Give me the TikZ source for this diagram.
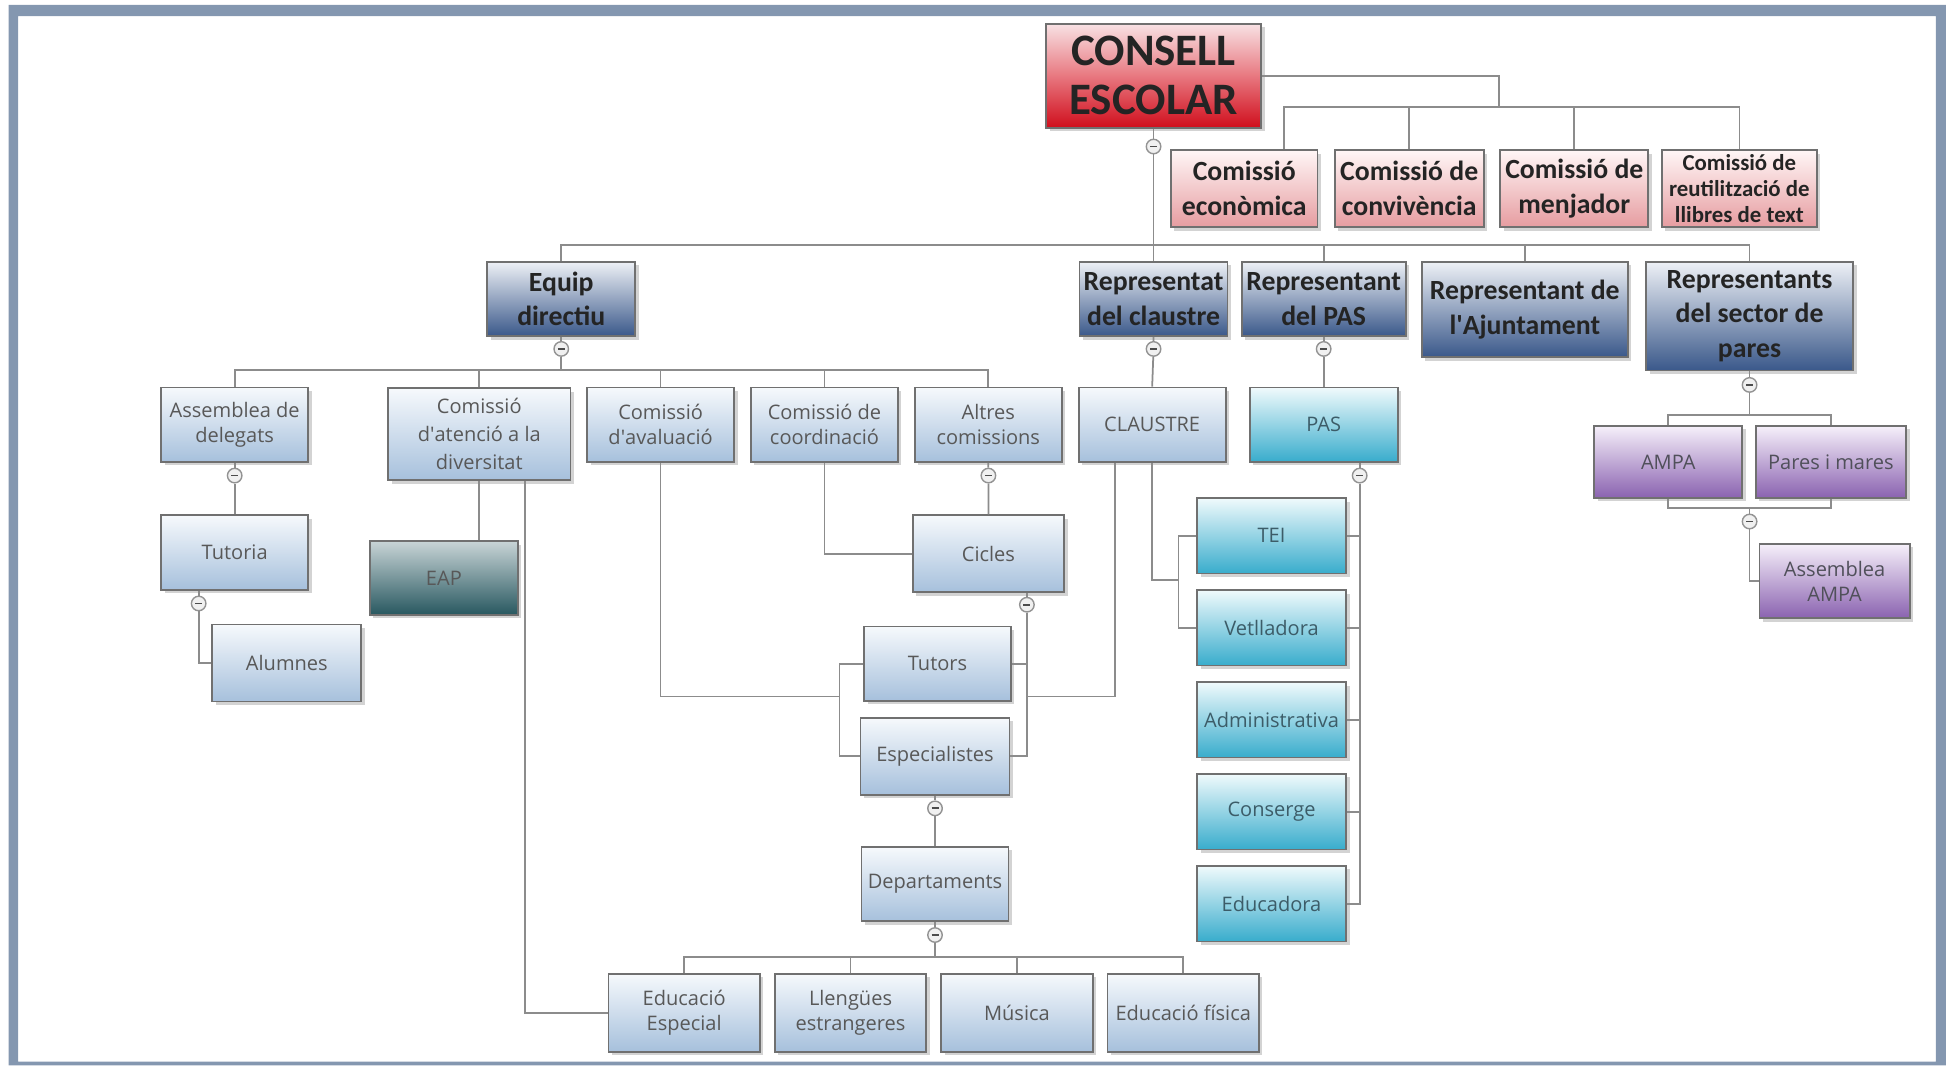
\documentclass[tikz,border=0pt]{standalone}
\usepackage{fontspec}
\setmainfont{Open Sans}
\newfontfamily\calib{Carlito}
\usetikzlibrary{shadows}

\definecolor{framec}{RGB}{132,151,176}
\definecolor{linec}{RGB}{140,140,140}
\definecolor{boxline}{RGB}{112,112,112}
\definecolor{txtdark}{RGB}{36,36,36}
\definecolor{txtgray}{RGB}{88,88,88}
\definecolor{paletop}{RGB}{246,249,252}
\definecolor{palebot}{RGB}{166,192,220}
\definecolor{reptop}{RGB}{238,241,246}
\definecolor{repbot}{RGB}{58,88,138}
\definecolor{redtop}{RGB}{248,226,228}
\definecolor{redmid}{RGB}{232,120,128}
\definecolor{redbot}{RGB}{208,14,28}
\definecolor{pinktop}{RGB}{255,246,246}
\definecolor{pinkbot}{RGB}{230,156,160}
\definecolor{deeptop}{RGB}{200,212,214}
\definecolor{deepbot}{RGB}{40,88,96}
\definecolor{aquatop}{RGB}{240,250,252}
\definecolor{aquabot}{RGB}{56,172,204}
\definecolor{aquatxt}{RGB}{60,92,104}
\definecolor{lilatop}{RGB}{246,240,250}
\definecolor{lilabot}{RGB}{138,98,176}
\definecolor{lilatxt}{RGB}{80,80,90}

\begin{document}
\begin{tikzpicture}[x=0.012417cm, y=-0.012417cm, node distance={16.51mm},
        box/.style = {draw=boxline, line width=0.5pt, align=center, inner sep=1pt, drop shadow={shadow xshift=0.35mm, shadow yshift=-0.35mm, opacity=0.35}},
        chair/.style = {box, top color=redtop, bottom color=redbot, middle color=redmid, text=txtdark, font=\calib\bfseries\fontsize{12.8}{14}\selectfont, minimum width=21.5mm, minimum height=10.4mm},
        com/.style = {box, top color=pinktop, bottom color=pinkbot, text=txtdark, font=\calib\bfseries\fontsize{7.9}{9.9}\selectfont, minimum height=7.7mm},
        rep/.style = {box, top color=reptop, bottom color=repbot, text=txtdark, font=\calib\bfseries\fontsize{7.9}{9.9}\selectfont, minimum width=14.8mm, minimum height=7.45mm},
        pale/.style = {box, top color=paletop, bottom color=palebot, text=txtgray, font=\fontsize{5.7}{7.2}\selectfont, minimum width=14.7mm, minimum height=7.45mm},
        deep/.style = {box, top color=deeptop, bottom color=deepbot, text=txtgray, font=\fontsize{5.7}{7.2}\selectfont, minimum width=14.8mm, minimum height=7.35mm},
        aqua/.style = {box, top color=aquatop, bottom color=aquabot, text=aquatxt, font=\fontsize{5.7}{7.2}\selectfont, minimum width=14.9mm, minimum height=7.55mm},
        lila/.style = {box, top color=lilatop, bottom color=lilabot, text=lilatxt, font=\fontsize{5.7}{7.2}\selectfont, minimum width=14.8mm, minimum height=7.2mm},
        knob/.style = {circle, draw=gray!85, fill=gray!12, line width=0.4pt, minimum size=1.45mm, inner sep=0pt, path picture={\draw[black!70, line width=0.5pt] ([xshift=-0.35mm]path picture bounding box.center) -- ([xshift=0.35mm]path picture bounding box.center);}},
        link/.style = {draw=linec, line width=0.5pt}]
        \useasboundingbox (0,0) rectangle (1568,858);
        \fill[framec, even odd rule] (7,4) rectangle (1567,858) (14.5,13) rectangle (1559,855);

        \node[chair] (1) at (929,61) {CONSELL\\ESCOLAR};
        \node[com, minimum width=14.65mm] (2) at (1002,152) {Comissió\\econòmica};
        \node[com, minimum width=14.9mm] (3) [right of = 2] {Comissió de\\convivència};
        \node[com, minimum width=14.8mm] (4) [right of = 3] {Comissió de\\menjador};
        \node[com, minimum width=15.5mm, font=\calib\bfseries\fontsize{6.5}{7.4}\selectfont] (5) [right of = 4] {Comissió de\\reutilització de\\llibres de text};

        \node[rep, anchor=north] (6) at (452,210) {Equip\\directiu};
        \node[rep, anchor=north] (7) at (929,210) {Representat\\del claustre};
        \node[rep, anchor=north, minimum width=16.4mm] (8) at (1066,210) {Representant\\del PAS};
        \node[rep, anchor=north, minimum width=20.6mm, minimum height=9.55mm] (9) at (1228,210) {Representant de\\l\textquotesingle Ajuntament};
        \node[rep, anchor=north, minimum width=20.7mm, minimum height=10.9mm] (10) at (1409,210) {Representants\\del sector de\\pares};

        \node[pale] (11) at (189,342) {Assemblea de\\delegats};
        \node[pale, anchor=north, minimum width=18.25mm, minimum height=9.2mm, font=\fontsize{5.7}{8}\selectfont] (12) at (386,312) {Comissió\\d\textquotesingle atenció a la\\diversitat};
        \node[pale] (13) at (532,342) {Comissió\\d\textquotesingle avaluació};
        \node[pale] (14) [right of = 13, node distance=16.39mm] {Comissió de\\coordinació};
        \node[pale] (15) [right of = 14, node distance=16.39mm] {Altres\\comissions};
        \node[pale] (16) [right of = 15, node distance=16.39mm] {CLAUSTRE};
        \node[aqua, minimum width=14.8mm, minimum height=7.45mm] (17) at (1066,342) {PAS};

        \node[pale] (18) at (189,445) {Tutoria};
        \node[pale, minimum width=14.9mm, minimum height=7.7mm] (19) at (231,534) {Alumnes};
        \node[deep] (20) at (357.5,465.5) {EAP};
        \node[pale, minimum width=15.15mm, minimum height=7.7mm] (21) at (796,446) {Cicles};
        \node[pale] (22) at (755,534.5) {Tutors};
        \node[pale, minimum width=14.9mm, minimum height=7.7mm] (23) at (753,609) {Especialistes};
        \node[pale] (24) at (753,712) {Departaments};

        \node[pale, minimum width=15.15mm, minimum height=7.8mm] (25) at (551,815.5) {Educació\\Especial};
        \node[pale, minimum width=15.15mm, minimum height=7.8mm] (26) [right of = 25, node distance=16.64mm] {Llengües\\estrangeres};
        \node[pale, minimum width=15.15mm, minimum height=7.8mm] (27) [right of = 26, node distance=16.64mm] {Música};
        \node[pale, minimum width=15.15mm, minimum height=7.8mm] (28) [right of = 27, node distance=16.64mm] {Educació física};

        \node[aqua] (29) at (1024,431.5) {TEI};
        \node[aqua] (30) [below of = 29, node distance=9.2mm] {Vetlladora};
        \node[aqua] (31) [below of = 30, node distance=9.2mm] {Administrativa};
        \node[aqua] (32) [below of = 31, node distance=9.2mm] {Conserge};
        \node[aqua] (33) [below of = 32, node distance=9.2mm] {Educadora};

        \node[lila] (34) at (1343.5,372) {AMPA};
        \node[lila, minimum width=15.05mm] (35) at (1474.5,372) {Pares i mares};
        \node[lila, minimum width=15.05mm, minimum height=7.45mm] (36) at (1477.5,468) {Assemblea\\AMPA};

        \node[knob] (1m) at (929,118) {};
        \node[knob] (6m) at (452,281) {};
        \node[knob] (7m) at (929,281) {};
        \node[knob] (8m) at (1066,281) {};
        \node[knob] (10m) at (1409,310) {};
        \node[knob] (10n) at (1409,420) {};
        \node[knob] (11m) at (189,383) {};
        \node[knob] (18m) at (160,486) {};
        \node[knob] (15m) at (796,383) {};
        \node[knob] (21m) at (827,487) {};
        \node[knob] (17m) at (1095,383) {};
        \node[knob] (23m) at (753,651) {};
        \node[knob] (24m) at (753,753) {};

        \coordinate (b1) at (1207,86);
        \coordinate (b0) at (929,197);
        \coordinate (b6) at (452,298);
        \coordinate (b10) at (1409,334);
        \coordinate (b10n) at (1409,409);
        \coordinate (b24) at (753,771);
        \coordinate (t13) at (676,561);
        \coordinate (t21) at (827,561);
        \coordinate (t16) at (949,467);

        \draw[link] (1.east) -| (b1);
        \draw[link] (2.north) ++(32,0) |- (b1);
        \draw[link] (3.north) |- (b1);
        \draw[link] (4.north) |- (b1);
        \draw[link] (5.north) |- (b1);
        \draw[link] (1.south -| 1m) -- (1m);
        \draw[link] (1m) -- (7.north);
        \draw[link] (6.north) |- (b0);
        \draw[link] (8.north) |- (b0);
        \draw[link] (9.north) |- (b0);
        \draw[link] (10.north) |- (b0);

        \draw[link] (6.south) -- (6m) -- (b6);
        \draw[link] (11.north) |- (b6);
        \draw[link] (12.north) |- (b6);
        \draw[link] (13.north) |- (b6);
        \draw[link] (14.north) |- (b6);
        \draw[link] (15.north) |- (b6);
        \draw[link] (7.south) -- (7m) -- (16.north);
        \draw[link] (8.south) -- (8m) -- (17.north);

        \draw[link] (10.south) -- (10m) -- (b10);
        \draw[link] (34.north) |- (b10);
        \draw[link] (35.north) |- (b10);
        \draw[link] (34.south) |- (b10n);
        \draw[link] (35.south) |- (b10n);
        \draw[link] (b10n) -- (10n);
        \draw[link] (10n) |- (36.west);

        \draw[link] (11.south) -- (11m) -- (18.north);
        \draw[link] (18.south -| 18m) -- (18m);
        \draw[link] (18m) |- (19.west);
        \draw[link] (12.south) -- (12.south |- 20.north);
        \draw[link] (12.south) ++(37,0) |- (25.west);

        \draw[link] (13.south) |- (t13);
        \draw[link] (22.west) -| (t13) |- (23.west);
        \draw[link] (14.south) |- (21.west);
        \draw[link] (15.south) -- (15m) -- (21.north);
        \draw[link] (21.south -| 21m) -- (21m);
        \draw[link] (21m) |- (22.east);
        \draw[link] (21m) |- (23.east);
        \draw[link] (16.south) ++(-30,0) |- (t21);
        \draw[link] (16.south) |- (t16);
        \draw[link] (29.west) -| (t16) |- (30.west);

        \draw[link] (17.south -| 17m) -- (17m);
        \draw[link] (17m) |- (29.east);
        \draw[link] (17m) |- (30.east);
        \draw[link] (17m) |- (31.east);
        \draw[link] (17m) |- (32.east);
        \draw[link] (17m) |- (33.east);

        \draw[link] (23.south) -- (23m) -- (24.north);
        \draw[link] (24.south) -- (24m) -- (b24);
        \draw[link] (25.north) |- (b24);
        \draw[link] (26.north) |- (b24);
        \draw[link] (27.north) |- (b24);
        \draw[link] (28.north) |- (b24);
\end{tikzpicture}
\end{document}
